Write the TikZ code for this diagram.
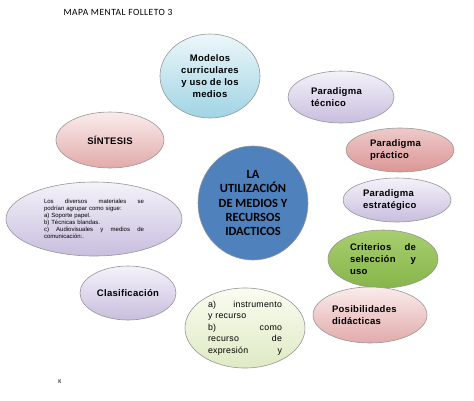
\documentclass[tikz,border=0pt]{standalone}
\usepackage{fontspec}
\setsansfont{Liberation Sans}
\newfontfamily\bubfont[LetterSpace=3]{Liberation Sans}
\newfontfamily\calibri{Carlito}
\newfontfamily\titlefont[LetterSpace=5]{Carlito}
\usetikzlibrary{shapes.geometric}

\definecolor{bluecore}{RGB}{79,129,189}
\definecolor{cyanlight}{RGB}{236,247,250}
\definecolor{cyandeep}{RGB}{160,212,228}
\definecolor{lilaclight}{RGB}{244,242,250}
\definecolor{lilacdeep}{RGB}{200,190,222}
\definecolor{roselight}{RGB}{250,236,236}
\definecolor{rosedeep}{RGB}{226,170,170}
\definecolor{rosestrong}{RGB}{220,150,150}
\definecolor{leafdeep}{RGB}{134,182,74}
\definecolor{leaflight}{RGB}{168,206,112}
\definecolor{mintlight}{RGB}{250,252,240}
\definecolor{mintdeep}{RGB}{222,234,196}
\definecolor{rimgray}{RGB}{150,150,150}

\tikzset{
  bubble/.style={ellipse, draw=rimgray, line width=0.6pt, inner sep=0pt,
    font=\bubfont\bfseries\fontsize{9.5}{12}\selectfont, align=left},
  cyanbub/.style={bubble, top color=cyanlight, bottom color=cyandeep},
  lilacbub/.style={bubble, top color=lilaclight, bottom color=lilacdeep},
  rosebub/.style={bubble, top color=roselight, bottom color=rosedeep},
  redbub/.style={bubble, top color=roselight!60!rosestrong, bottom color=rosestrong},
  leafbub/.style={bubble, top color=leaflight, bottom color=leafdeep},
  mintbub/.style={bubble, top color=mintlight, bottom color=mintdeep}
}

\begin{document}
\begin{tikzpicture}[x=1pt,y=1pt,yscale=-1]
\useasboundingbox (0,0) rectangle (474,400);

% title and footer
\node (title) at (118,12) {\titlefont\fontsize{9.5}{11}\selectfont MAPA MENTAL FOLLETO 3};
\node (foot) at (60,382) {\calibri\fontsize{6}{7}\selectfont K};

% central circle
\node (core) [bubble, fill=bluecore, minimum width=110pt, minimum height=114pt,
  align=center, font=\calibri\bfseries\fontsize{12.5}{14.3}\selectfont]
  at (253,203) {LA\\UTILIZACIÓN\\DE MEDIOS Y\\RECURSOS\\IDACTICOS};

% surrounding bubbles
\node (modelos) [cyanbub, minimum width=100pt, minimum height=84pt, align=center]
  at (210,76) {Modelos\\curriculares\\y uso de los\\medios};
\node (tecnico) [lilacbub, minimum width=106pt, minimum height=52pt, text width=60pt]
  at (341,97) {Paradigma\\técnico};
\node (practico) [redbub, minimum width=108pt, minimum height=44pt, text width=60pt]
  at (400,150) {Paradigma\\práctico};
\node (estrategico) [lilacbub, minimum width=108pt, minimum height=44pt, text width=68pt]
  at (397,200) {Paradigma\\estratégico};
\node (criterios) [leafbub, minimum width=110pt, minimum height=58pt, text width=66pt]
  at (383,259) {Criterios\hfill de\\selección\hfill y\\uso};
\node (posibles) [rosebub, minimum width=114pt, minimum height=56pt, text width=76pt]
  at (370,315) {Posibilidades\\didácticas};
\node (instrumento) [mintbub, minimum width=120pt, minimum height=80pt, text width=74pt,
  font=\bubfont\fontsize{8.8}{11.4}\selectfont]
  at (245,328) {a)\hfill instrumento\\y recurso\\b)\hfill como\\recurso\hfill de\\expresión\hfill y};
\node (clasifica) [lilacbub, minimum width=96pt, minimum height=54pt, align=center]
  at (128,293) {Clasificación};
\node (materiales) [lilacbub, minimum width=176pt, minimum height=74pt, text width=100pt,
  font=\sffamily\fontsize{6}{7}\selectfont]
  at (94,219) {Los\hfill diversos\hfill materiales\hfill se\\
  podrían agrupar como sigue:\\a) Soporte papel.\\b) Técnicas blandas.\\
  c)\hfill Audiovisuales\hfill y\hfill medios\hfill de\\comunicación:.};
\node (sintesis) [rosebub, minimum width=108pt, minimum height=56pt, align=center]
  at (110,140) {SÍNTESIS};

\end{tikzpicture}
\end{document}
